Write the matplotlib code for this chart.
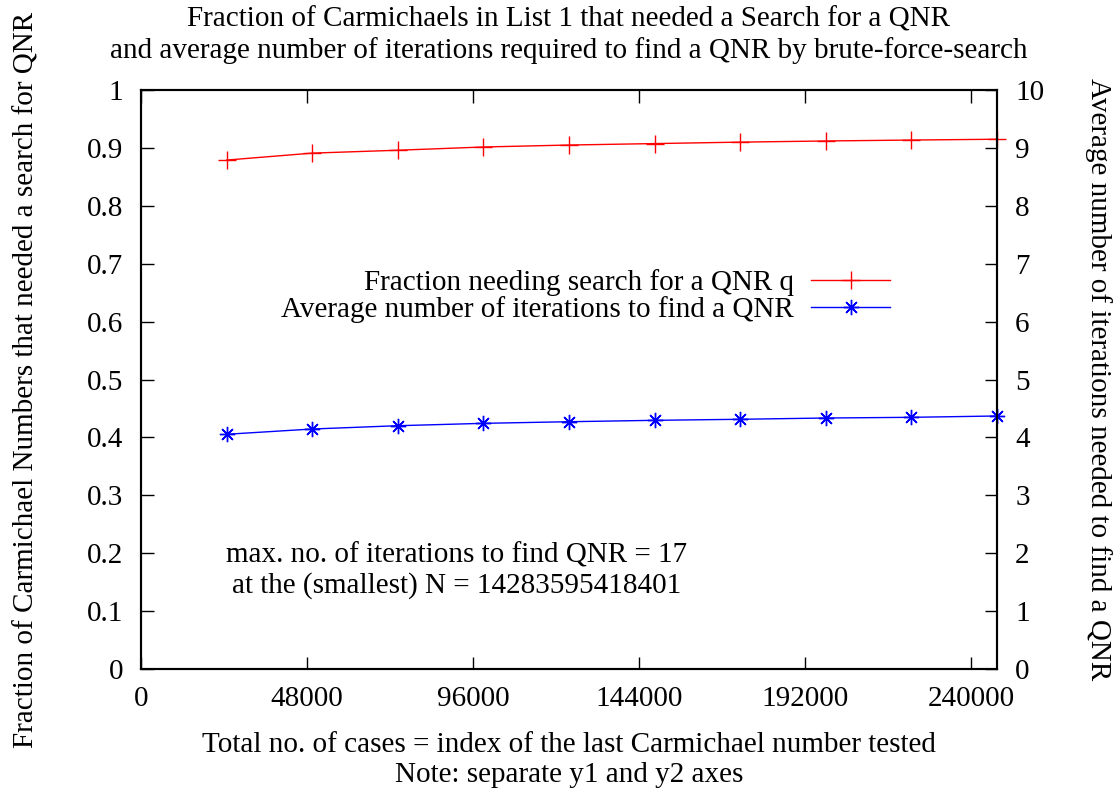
import numpy as np
import matplotlib
matplotlib.use('Agg')
import matplotlib.pyplot as plt

# Set plotting defaults (gnuplot-ish look)
fs = 21
fnt = {'family': 'Liberation Serif',
       'weight': 'regular',
       'size': fs}
matplotlib.rc('font', **fnt)

# Data
ncases = [24750, 49500, 74250, 99000, 123750, 148500, 173250, 198000, 222750, 247500]
frac_search = [0.879, 0.891, 0.896, 0.9016, 0.905, 0.9075, 0.910, 0.912, 0.9136, 0.915]
avg_iters = [4.054, 4.145, 4.202, 4.243, 4.271, 4.295, 4.313, 4.335, 4.347, 4.37]

xticks = [0, 48000, 96000, 144000, 192000, 240000]
y1ticks = [0, 0.1, 0.2, 0.3, 0.4, 0.5, 0.6, 0.7, 0.8, 0.9, 1]
y2ticks = list(range(0, 11))

F1 = plt.figure(figsize=(11.17, 7.89), dpi=100)
ax1 = F1.add_axes([0.1262, 0.1521, 0.8926 - 0.1262, 0.8859 - 0.1521])
ax2 = ax1.twinx()

l1, = ax1.plot(ncases, frac_search, color='red', lw=1.0, marker='+', ms=13, mew=1.0,
               label='Fraction needing search for a QNR q', clip_on=False)
l2, = ax2.plot(ncases, avg_iters, color='blue', lw=1.0, marker=(8, 2, 0), ms=11, mew=1.0,
               label='Average number of iterations to find a QNR', clip_on=False)

ax1.set_xlim(0, ncases[-1])
ax1.set_ylim(0, 1)
ax2.set_ylim(0, 10)
ax1.set_xticks(xticks)
ax1.set_xticklabels([str(t) for t in xticks])
ax1.set_yticks(y1ticks)
ax1.set_yticklabels(['0', '0.1', '0.2', '0.3', '0.4', '0.5', '0.6', '0.7', '0.8', '0.9', '1'])
ax2.set_yticks(y2ticks)

ax1.tick_params(axis='x', direction='in', length=9, width=1, top=True, pad=12)
ax1.tick_params(axis='y', direction='in', length=9, width=1, pad=13)
ax2.tick_params(axis='y', direction='in', length=9, width=1, pad=13)
for ax in (ax1, ax2):
    for s in ax.spines.values():
        s.set_linewidth(1.5)

ax1.set_title('Fraction of Carmichaels in List 1 that needed a Search for a QNR\n'
              'and average number of iterations required to find a QNR by brute-force-search',
              fontsize=fs, linespacing=1.2, pad=23)
ax1.set_xlabel('Total no. of cases = index of the last Carmichael number tested\n'
               'Note: separate y1 and y2 axes', linespacing=1.2, labelpad=15)
ax1.set_ylabel('Fraction of Carmichael Numbers that needed a search for QNR', labelpad=34)
ax2.set_ylabel('Average number of iterations needed to find a QNR', rotation=270, labelpad=49)

ax1.text(0.369, 0.17, 'max. no. of iterations to find QNR = 17\n'
         'at the (smallest) N = 14283595418401',
         transform=ax1.transAxes, ha='center', va='center', linespacing=1.15)

plt.legend((l1, l2), (l1.get_label(), l2.get_label()), loc='center right',
           bbox_to_anchor=(0.892, 0.644), frameon=False, markerfirst=False,
           handlelength=2.7, handletextpad=0.6, labelspacing=0.02, borderpad=0)

F1.savefig('out.png', dpi=100)
